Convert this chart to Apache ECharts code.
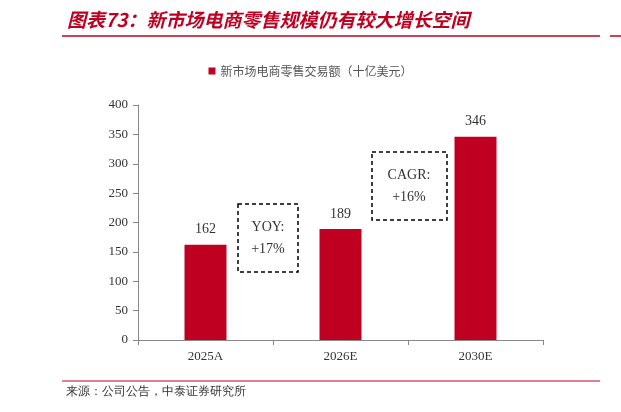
<!DOCTYPE html><html><head><meta charset="utf-8"><script src="https://cdn.jsdelivr.net/npm/echarts@6/dist/echarts.min.js"></script>
<style>body{margin:0}#c{width:621px;height:412px}</style></head><body><div id="c"></div><script>
const categories=['2025A','2026E','2030E'];
const values=[162,189,346];
const yTicks=[0,50,100,150,200,250,300,350,400];
const seriesName='新市场电商零售交易额（十亿美元）';
const chart=echarts.init(document.getElementById('c'));
const serif='"Liberation Serif","DejaVu Serif",serif';
chart.setOption({
animation:false,
title:{text:'图表73：新市场电商零售规模仍有较大增长空间',left:62,top:5,textStyle:{color:'#C00020',fontSize:19,fontStyle:'italic',fontWeight:'bold',fontFamily:'"Noto Sans CJK SC"'}},
legend:{data:[seriesName],top:60,left:'center',itemWidth:7,itemHeight:7,icon:'rect',textStyle:{fontSize:12,color:'#555',fontFamily:'"Noto Sans CJK SC"'}},
grid:{left:138,right:78,top:105,bottom:72},
xAxis:{type:'category',data:categories,axisLine:{lineStyle:{color:'#888'}},axisTick:{show:true,lineStyle:{color:'#888'}},axisLabel:{color:'#333',fontSize:13,fontFamily:serif,margin:10}},
yAxis:{type:'value',min:0,max:400,interval:50,splitLine:{show:false},axisLine:{show:true,lineStyle:{color:'#888'}},axisTick:{show:true,lineStyle:{color:'#888'}},axisLabel:{color:'#333',fontSize:13,fontFamily:serif,margin:10}},
series:[{name:seriesName,type:'bar',data:values,barWidth:42,itemStyle:{color:'#C00020'},label:{show:true,position:'top',color:'#333',fontSize:14,fontFamily:serif,distance:8}}],
graphic:[
{type:'line',shape:{x1:62,y1:36,x2:600,y2:36},style:{stroke:'#C00020',lineWidth:1.5}},
{type:'line',shape:{x1:610,y1:36,x2:621,y2:36},style:{stroke:'#C00020',lineWidth:1.5}},
{type:'line',shape:{x1:62,y1:381,x2:600,y2:381},style:{stroke:'#C00020',lineWidth:1}},
{type:'text',left:66,top:386,style:{text:'来源：公司公告，中泰证券研究所',fill:'#333',fontSize:12,font:'12px "Noto Sans CJK SC"'}},
{type:'rect',shape:{x:238,y:204,width:60,height:68},style:{fill:'none',stroke:'#000',lineWidth:1.5,lineDash:[4,3]}},
{type:'text',x:268,y:238,style:{text:'YOY:\n+17%',fill:'#333',font:'14px "Liberation Serif"',align:'center',verticalAlign:'middle',lineHeight:22}},
{type:'rect',shape:{x:372,y:152,width:75,height:68},style:{fill:'none',stroke:'#000',lineWidth:1.5,lineDash:[4,3]}},
{type:'text',x:409,y:186,style:{text:'CAGR:\n+16%',fill:'#333',font:'14px "Liberation Serif"',align:'center',verticalAlign:'middle',lineHeight:22}}
]});
</script></body></html>
